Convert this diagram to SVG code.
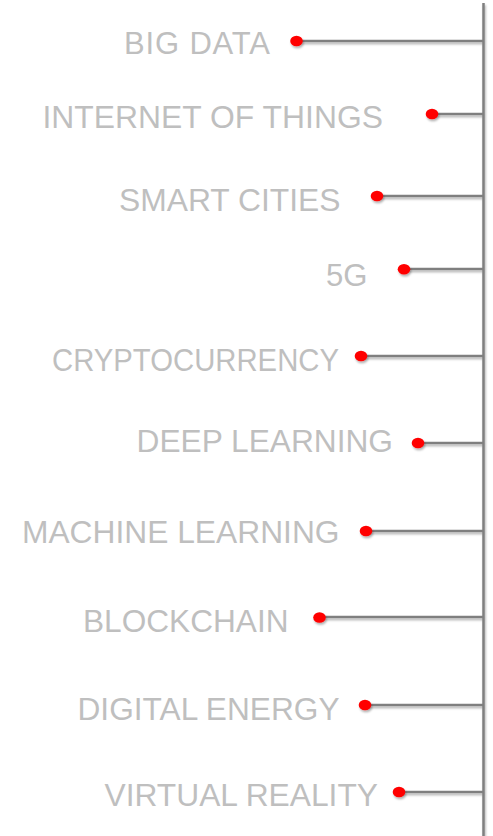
<svg xmlns="http://www.w3.org/2000/svg" width="493" height="836" viewBox="0 0 493 836">
  <style>
    .lbl { font-family: "Liberation Sans", Arial, sans-serif; font-size: 31px; fill: #bfbfbf; }
    .ln { stroke: #7f7f7f; stroke-width: 2.5; fill: none; }
    .dot { fill: #ff0000; }
  </style>
  <defs>
    <filter id="sh" x="-50%" y="-50%" width="200%" height="200%">
      <feDropShadow dx="1" dy="2" stdDeviation="1.2" flood-color="#000" flood-opacity="0.3"/>
    </filter>
  </defs>
  <rect width="493" height="836" fill="#ffffff"/>
  <g id="connectors" filter="url(#sh)">
    <line class="ln" x1="483.5" y1="3" x2="483.5" y2="836"/>
    <line class="ln" x1="296" y1="41" x2="483" y2="41"/>
    <line class="ln" x1="432" y1="114" x2="483" y2="114"/>
    <line class="ln" x1="377" y1="196" x2="483" y2="196"/>
    <line class="ln" x1="404" y1="269" x2="483" y2="269"/>
    <line class="ln" x1="361" y1="356" x2="483" y2="356"/>
    <line class="ln" x1="418" y1="443" x2="483" y2="443"/>
    <line class="ln" x1="366" y1="531" x2="483" y2="531"/>
    <line class="ln" x1="319" y1="617" x2="483" y2="617"/>
    <line class="ln" x1="365" y1="705" x2="483" y2="705"/>
    <line class="ln" x1="399" y1="792" x2="483" y2="792"/>
  </g>
  <g id="n1"><text class="lbl" x="124" y="54" textLength="146" lengthAdjust="spacing">BIG DATA</text><ellipse class="dot" filter="url(#sh)" cx="296.5" cy="41" rx="6.3" ry="5.3"/></g>
  <g id="n2"><text class="lbl" x="42.5" y="127.5" textLength="340.5" lengthAdjust="spacingAndGlyphs">INTERNET OF THINGS</text><ellipse class="dot" filter="url(#sh)" cx="432" cy="114" rx="6.3" ry="5.3"/></g>
  <g id="n3"><text class="lbl" x="119" y="210.5" textLength="221.5" lengthAdjust="spacingAndGlyphs">SMART CITIES</text><ellipse class="dot" filter="url(#sh)" cx="377" cy="196" rx="6.3" ry="5.3"/></g>
  <g id="n4"><text class="lbl" x="326" y="286" textLength="41.5" lengthAdjust="spacingAndGlyphs">5G</text><ellipse class="dot" filter="url(#sh)" cx="404" cy="269.3" rx="6.3" ry="5.3"/></g>
  <g id="n5"><text class="lbl" x="52" y="371" textLength="287" lengthAdjust="spacingAndGlyphs">CRYPTOCURRENCY</text><ellipse class="dot" filter="url(#sh)" cx="361" cy="356" rx="6.3" ry="5.3"/></g>
  <g id="n6"><text class="lbl" x="136.5" y="452" textLength="256.5" lengthAdjust="spacingAndGlyphs">DEEP LEARNING</text><ellipse class="dot" filter="url(#sh)" cx="418" cy="443" rx="6.3" ry="5.3"/></g>
  <g id="n7"><text class="lbl" x="22" y="543" textLength="317.5" lengthAdjust="spacingAndGlyphs">MACHINE LEARNING</text><ellipse class="dot" filter="url(#sh)" cx="366" cy="531" rx="6.3" ry="5.3"/></g>
  <g id="n8"><text class="lbl" x="83" y="632" textLength="205.5" lengthAdjust="spacingAndGlyphs">BLOCKCHAIN</text><ellipse class="dot" filter="url(#sh)" cx="319.5" cy="617.5" rx="6.3" ry="5.3"/></g>
  <g id="n9"><text class="lbl" x="77.5" y="720" textLength="262" lengthAdjust="spacingAndGlyphs">DIGITAL ENERGY</text><ellipse class="dot" filter="url(#sh)" cx="365" cy="705" rx="6.3" ry="5.3"/></g>
  <g id="n10"><text class="lbl" x="104.5" y="806" textLength="273.5" lengthAdjust="spacingAndGlyphs">VIRTUAL REALITY</text><ellipse class="dot" filter="url(#sh)" cx="399" cy="792" rx="6.3" ry="5.3"/></g>
</svg>
